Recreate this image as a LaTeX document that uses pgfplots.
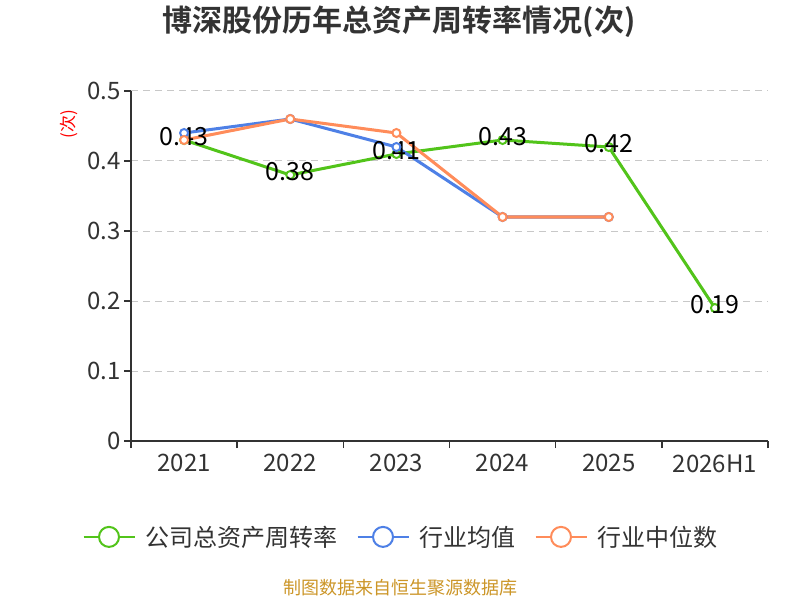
\documentclass[border=0pt]{standalone}
\usepackage{fontspec}
\setmainfont{Noto Sans CJK SC}[BoldFont={Noto Sans CJK SC Bold}]
\usepackage{pgfplots}
\pgfplotsset{compat=1.18}
\definecolor{cgreen}{RGB}{82,196,26}
\definecolor{cblue}{RGB}{78,128,230}
\definecolor{corange}{RGB}{255,140,90}
\definecolor{ctext}{RGB}{51,51,51}
\definecolor{cgrid}{RGB}{200,200,200}
\definecolor{csrc}{RGB}{204,150,40}
\begin{document}
\begin{tikzpicture}[x=1pt,y=1pt]
\fill[white] (0,0) rectangle (800,600);
\useasboundingbox (0,0) rectangle (800,600);
\node[font=\fontsize{30}{34}\selectfont\bfseries, text=ctext] at (399,578) {博深股份历年总资产周转率情况(次)};
\node[font=\fontsize{17}{19}\selectfont, text=red, rotate=90] at (69,476) {(次)};
\node[font=\fontsize{18}{20}\selectfont, text=csrc] at (400,12) {制图数据来自恒生聚源数据库};
\begin{axis}[
  at={(131pt,159pt)}, anchor=south west,
  scale only axis, width=637pt, height=350pt,
  xmin=-0.5, xmax=5.5, ymin=0, ymax=0.5,
  axis x line*=bottom, axis y line*=left,
  axis line style={ctext, line width=1.5pt, -},
  xtick={-0.5,0.5,1.5,2.5,3.5,4.5,5.5},
  x tick label as interval,
  xticklabels={2021,2022,2023,2024,2025,2026H1},
  ytick={0,0.1,0.2,0.3,0.4,0.5},
  yticklabel style={/pgf/number format/fixed,/pgf/number format/precision=1},
  xticklabel style={yshift=-3pt},
  /pgf/number format/assume math mode=true,
  tick align=outside, major tick length=7pt,
  tick style={ctext, line width=1.5pt},
  tick label style={font=\fontsize{24}{26}\selectfont, text=ctext},
  ymajorgrids, grid style={cgrid, dashed, line width=1pt, dash pattern=on 7pt off 5pt},
  clip=false,
  legend columns=3,
  legend style={at={(0.4223,-0.274)}, anchor=center, draw=none, fill=none,
    font=\fontsize{24}{26}\selectfont, text=ctext,
    nodes={inner sep=0pt},
    /tikz/every odd column/.append style={column sep=10pt},
    /tikz/every even column/.append style={column sep=19pt}},
  legend image code/.code={
    \draw[line width=2pt] (0pt,0pt) -- (51pt,0pt);
    \draw[line width=2pt, fill=white] (25.5pt,0pt) circle (10pt);
  },
]
\addplot[cgreen, line width=3pt, mark=*, mark size=4pt, mark options={fill=white, line width=2pt},
  nodes near coords, point meta=explicit symbolic,
  every node near coord/.append style={anchor=center, yshift=3pt, text=black, font=\fontsize{25}{28}\selectfont}]
  table[meta=label] {
x y label
0 0.43 0.43
1 0.38 0.38
2 0.41 0.41
3 0.43 0.43
4 0.42 0.42
5 0.19 0.19
};
\addlegendentry{公司总资产周转率}
\addplot[cblue, line width=3pt, mark=*, mark size=4pt, mark options={fill=white, line width=2pt}]
  coordinates {(0,0.44) (1,0.46) (2,0.42) (3,0.32) (4,0.32)};
\addlegendentry{行业均值}
\addplot[corange, line width=3pt, mark=*, mark size=4pt, mark options={fill=white, line width=2pt}]
  coordinates {(0,0.43) (1,0.46) (2,0.44) (3,0.32) (4,0.32)};
\addlegendentry{行业中位数}
\end{axis}
\end{tikzpicture}
\end{document}
